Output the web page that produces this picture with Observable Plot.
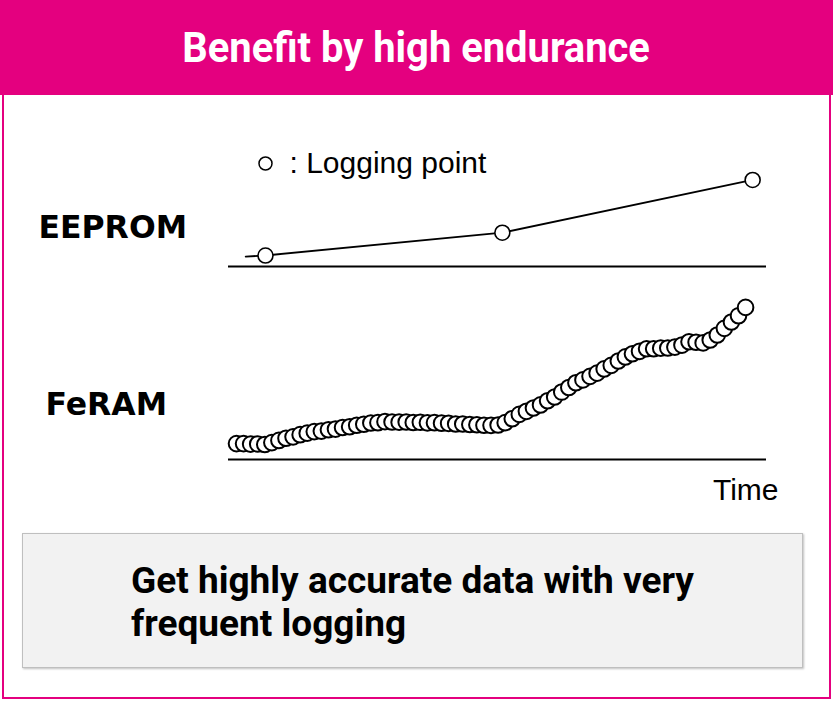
<!DOCTYPE html>
<html>
<head>
<meta charset="utf-8">
<script src="https://cdn.jsdelivr.net/npm/d3@7"></script>
<script src="https://cdn.jsdelivr.net/npm/@observablehq/plot@0.6"></script>
<style>
  html, body { margin: 0; padding: 0; background: #fff; }
  #page { position: relative; width: 833px; height: 701px; overflow: hidden; }
  #header { position: absolute; left: 0; top: 0; width: 833px; height: 95px; background: #E4007F;
    color: #fff; display: flex; align-items: center; justify-content: center; }
  #header span { font-family: "Roboto", sans-serif; font-weight: bold; font-size: 42px;
    display: inline-block; transform: scaleX(0.95); }
  #frame { position: absolute; left: 2px; top: 95px; width: 829px; height: 604px; box-sizing: border-box;
    border: 2px solid #E4007F; border-top: none; }
  #chart { position: absolute; left: 0; top: 95px; }
  #note { position: absolute; left: 22px; top: 533px; width: 781px; height: 135px; box-sizing: border-box;
    background: #F2F2F2; border: 1px solid #BFBFBF; box-shadow: 1px 1px 2px rgba(0,0,0,0.25);
    padding: 25px 0 0 108px; font-family: "Roboto", sans-serif; font-weight: bold;
    font-size: 37px; line-height: 43px; color: #000; }
</style>
</head>
<body>
<div id="page">
  <div id="header"><span id="title"></span></div>
  <div id="frame"></div>
  <div id="chart"></div>
  <div id="note"></div>
</div>
<script>
const titleText = "Benefit by high endurance";
const noteLines = ["Get highly accurate data with very", "frequent logging"];
const panels = ["EEPROM", "FeRAM"];
const legendText = ": Logging point";
const axisLabel = "Time";

// EEPROM: sparse logging (time in sample units, value in % of panel height)
const eepromLineTime = [1.3, 4.1, 37.6, 73.0];
const eepromLineValue = [5.9, 6.5, 20.0, 51.2];
const eepromPointTime = [4.1, 37.6, 73.0];
const eepromPointValue = [6.5, 20.0, 51.2];

// FeRAM: very frequent logging, one value per sample
const feramValue = [
  9.4, 9.4, 9.1, 9.2, 8.9, 10.0, 11.3, 12.6, 13.4, 14.7,
  15.6, 16.5, 16.8, 17.6, 18.0, 18.9, 19.4, 20.3, 20.9, 21.6,
  21.8, 22.4, 22.2, 22.1, 22.2, 21.9, 22.0, 21.7, 21.8, 21.5,
  21.4, 21.0, 21.0, 20.7, 20.6, 20.3, 20.2, 20.4, 21.8, 24.1,
  26.7, 28.5, 30.5, 32.3, 34.8, 37.0, 39.9, 42.6, 45.4, 47.1,
  49.2, 51.1, 53.6, 55.7, 58.3, 60.7, 62.6, 64.0, 65.5, 65.5,
  65.9, 66.0, 66.5, 67.7, 69.7, 69.4, 69.0, 70.7, 73.7, 77.6,
  81.4, 85.1, 90.0
];
const feramTime = feramValue.map((_, i) => i);

const eepromLine = eepromLineTime.map((t, i) => ({t, v: eepromLineValue[i], panel: "EEPROM"}));
const eepromPoints = eepromPointTime.map((t, i) => ({t, v: eepromPointValue[i], panel: "EEPROM"}));
const feramPoints = feramTime.map((t, i) => ({t, v: feramValue[i], panel: "FeRAM"}));

document.getElementById("title").textContent = titleText;
document.getElementById("note").innerHTML = noteLines.join("<br>");

const labelFont = "DejaVu Sans, sans-serif";
const textFont = "Liberation Sans, Arial, sans-serif";

const chart = Plot.plot({
  width: 833,
  height: 415,
  marginTop: 1,
  marginBottom: 50,
  marginLeft: 228,
  marginRight: 67,
  x: {domain: [-1.13, 74.96], axis: null},
  y: {domain: [0, 100], axis: null},
  fy: {domain: panels, axis: null, paddingInner: 0.1237, paddingOuter: 0},
  style: {background: "transparent", overflow: "visible"},
  marks: [
    Plot.ruleY([0], {stroke: "#000", strokeWidth: 2}),
    Plot.line(eepromLine, {x: "t", y: "v", fy: "panel", stroke: "#000", strokeWidth: 1.8}),
    Plot.dot(eepromPoints, {x: "t", y: "v", fy: "panel", r: 7.5, fill: "#fff", stroke: "#000", strokeWidth: 1.6}),
    Plot.dot(feramPoints, {x: "t", y: "v", fy: "panel", r: 7.8, fill: "#fff", stroke: "#000", strokeWidth: 2}),
    Plot.dot([{panel: "EEPROM"}], {fy: "panel", frameAnchor: "top-left", dx: 37, dy: 66, r: 6.5, fill: "#fff", stroke: "#000", strokeWidth: 1.5}),
    Plot.text([{panel: "EEPROM", label: legendText}], {fy: "panel", text: "label", frameAnchor: "top-left", dx: 61, dy: 66,
      textAnchor: "start", lineAnchor: "middle", fontSize: 30, fontFamily: textFont, fill: "#000"}),
    Plot.text([{panel: "EEPROM", label: panels[0]}], {fy: "panel", text: "label", frameAnchor: "left", dx: -190, dy: 46,
      textAnchor: "start", fontSize: 31.5, fontWeight: "bold", fontFamily: labelFont, fill: "#000"}),
    Plot.text([{panel: "FeRAM", label: panels[1]}], {fy: "panel", text: "label", frameAnchor: "left", dx: -183, dy: 30,
      textAnchor: "start", fontSize: 31.5, fontWeight: "bold", fontFamily: labelFont, fill: "#000"}),
    Plot.text([{panel: "FeRAM", label: axisLabel}], {fy: "panel", text: "label", frameAnchor: "bottom-right", dx: 12, dy: 31,
      textAnchor: "end", lineAnchor: "middle", fontSize: 30, fontFamily: textFont, fill: "#000"})
  ]
});
document.getElementById("chart").appendChild(chart);
</script>
</body>
</html>
